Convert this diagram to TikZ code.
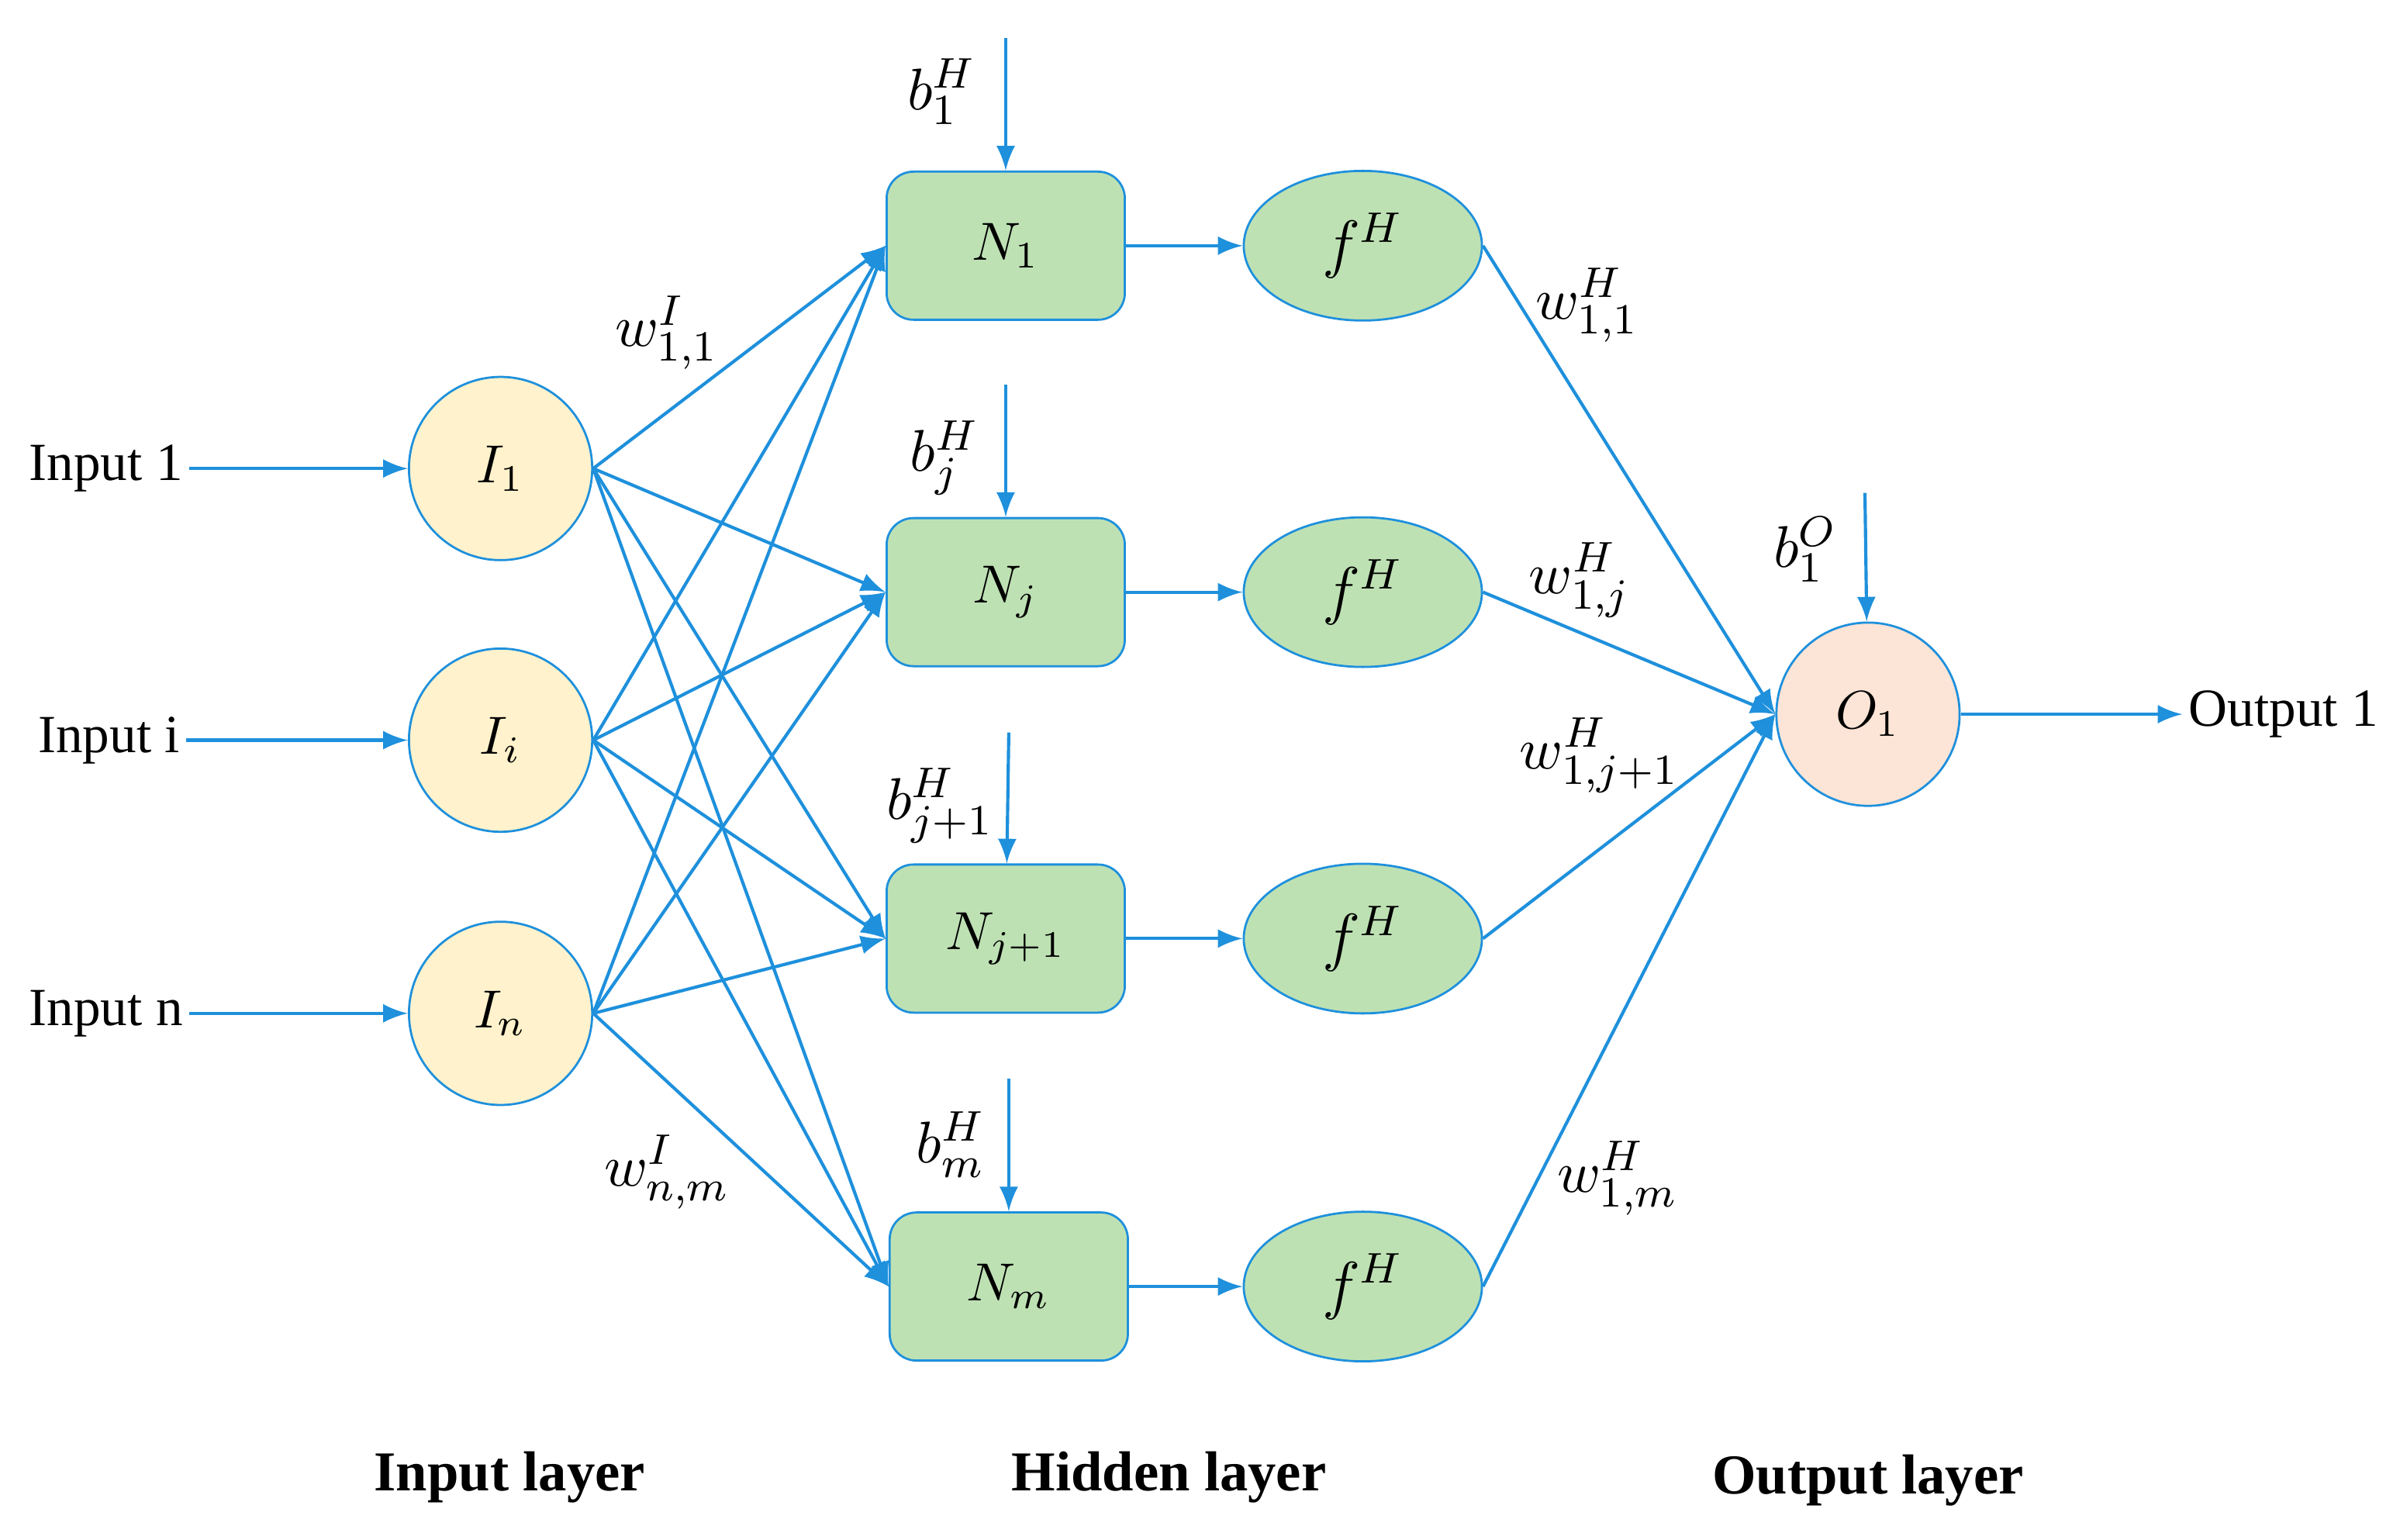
\documentclass[tikz,border=0pt]{standalone}
\usepackage{fontspec}
\setmainfont{Liberation Serif}
\usetikzlibrary{shapes.geometric}
\definecolor{lineblue}{RGB}{30,144,220}
\definecolor{inyellow}{RGB}{255,242,204}
\definecolor{hidgreen}{RGB}{190,225,180}
\definecolor{outpink}{RGB}{252,228,214}

\begin{document}
\begin{tikzpicture}[
	x=0.01cm, y=-0.01cm
	,inp/.style={draw=lineblue, fill=inyellow, circle, minimum size=1.2cm, inner sep=0pt, font=\normalsize}
	,sum/.style={draw=lineblue, fill=hidgreen, rounded corners=5pt, minimum width=1.56cm, minimum height=0.97cm, font=\normalsize}
	,act/.style={draw=lineblue, fill=hidgreen, ellipse, minimum width=1.56cm, minimum height=0.98cm, inner sep=0pt, font=\large}
	,outp/.style={draw=lineblue, fill=outpink, circle, minimum size=1.2cm, inner sep=0pt}
	,con/.style={draw=lineblue, ->, >=latex, line width=0.6pt}
	,txt/.style={font=\fontsize{10}{12}\selectfont, inner sep=1pt}
	,lbl/.style={font=\fontsize{11}{13}\selectfont, inner sep=1pt}
	,layer/.style={font=\fontsize{10.5}{12}\selectfont\bfseries}
]
	\useasboundingbox (0,0) rectangle (1568,1009);

	\node[inp] (I1) at (328,307) {$I_1$};
	\node[inp] (Ii) at (328,485) {$I_i$};
	\node[inp] (In) at (328,664) {$I_n$};

	\node[sum] (N1) at (659,161) {$N_1$};
	\node[sum] (Nj) at (659,388) {$N_j$};
	\node[sum] (Nk) at (659,615) {$N_{j+1}$};
	\node[sum] (Nm) at (661,843) {$N_m$};

	\node[act] (F1) at (893,161) {$f^H$};
	\node[act] (Fj) at (893,388) {$f^H$};
	\node[act] (Fk) at (893,615) {$f^H$};
	\node[act] (Fm) at (893,843) {$f^H$};

	\node[outp] (O1) at (1224,468) {$O_1$};

	% inputs and output
	\node[txt, anchor=east] (X1) at (124,307) {Input 1};
	\node[txt, anchor=east] (Xi) at (122,485) {Input i};
	\node[txt, anchor=east] (Xn) at (124,664) {Input n};
	\node[txt, anchor=west] (Y1) at (1430,468) {Output 1};
	\draw[con] (X1) -- (I1);
	\draw[con] (Xi) -- (Ii);
	\draw[con] (Xn) -- (In);
	\draw[con] (O1) -- (Y1);

	% input to hidden
	\foreach \i in {I1,Ii,In}
		\foreach \n in {N1,Nj,Nk,Nm}
			\draw[con] (\i.east) -- (\n.west);

	% hidden to output
	\foreach \n/\f in {N1/F1,Nj/Fj,Nk/Fk,Nm/Fm}{
		\draw[con] (\n) -- (\f);
		\draw[con] (\f.east) -- (O1.west);
	}

	% biases
	\coordinate (B1) at (659,25);
	\coordinate (Bj) at (659,252);
	\coordinate (Bk) at (661,480);
	\coordinate (Bm) at (661,707);
	\coordinate (BO) at (1222,323);
	\draw[con] (B1) -- (N1);
	\draw[con] (Bj) -- (Nj);
	\draw[con] (Bk) -- (Nk);
	\draw[con] (Bm) -- (Nm);
	\draw[con] (BO) -- (O1);
	\node[lbl] at (617,60) {$b_1^H$};
	\node[lbl] at (619,300) {$b_j^H$};
	\node[lbl] at (616,528) {$b_{j+1}^H$};
	\node[lbl] at (623,750) {$b_m^H$};
	\node[lbl] at (1183,360) {$b_1^O$};

	% weights
	\node[lbl] at (437,218) {$w^I_{1,1}$};
	\node[lbl] at (437,768) {$w^I_{n,m}$};
	\node[lbl] at (1040,200) {$w^H_{1,1}$};
	\node[lbl] at (1035,380) {$w^H_{1,j}$};
	\node[lbl] at (1048,495) {$w^H_{1,j+1}$};
	\node[lbl] at (1060,772) {$w^H_{1,m}$};

	% layers
	\node[layer] at (334,968) {Input layer};
	\node[layer] at (766,968) {Hidden layer};
	\node[layer] at (1224,970) {Output layer};
\end{tikzpicture}
\end{document}
